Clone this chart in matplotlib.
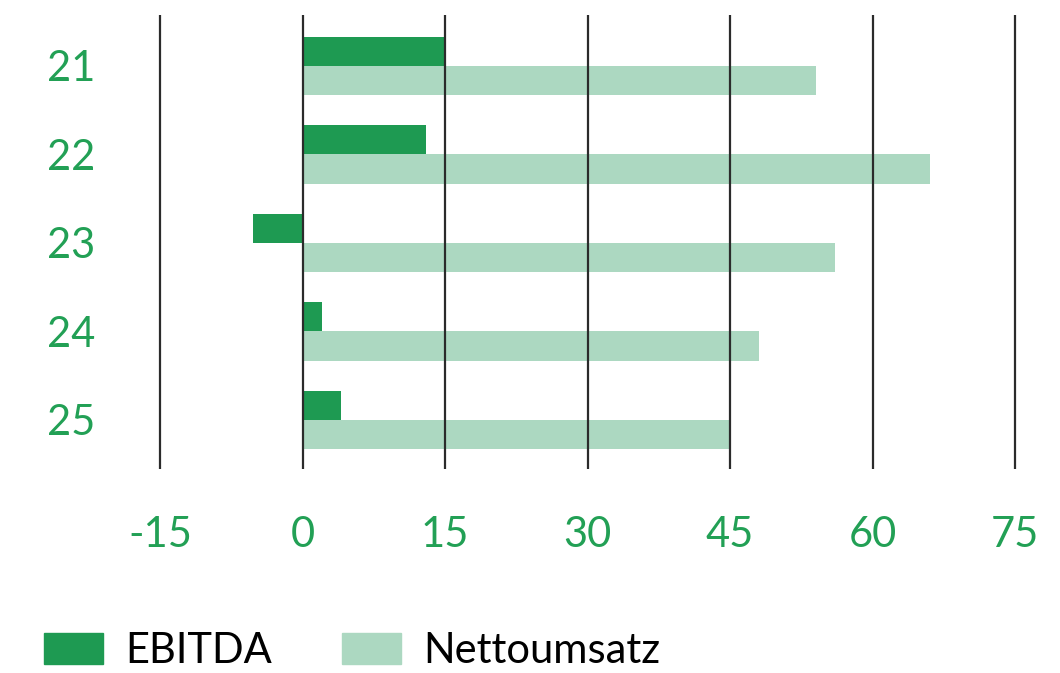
import matplotlib
matplotlib.use("Agg")
import matplotlib.pyplot as plt
import numpy as np
from matplotlib.patches import Patch

categories = ["21", "22", "23", "24", "25"]
ebitda = [15, 13, -5.2, 2, 4]
nettoumsatz = [54, 66, 56, 48, 45]
xticks = [-15, 0, 15, 30, 45, 60, 75]
series_names = ["EBITDA", "Nettoumsatz"]

dark = "#1e9a52"
light = "#acd8c1"
tickcol = "#22a055"

plt.rcParams['font.family'] = ['Lato', 'DejaVu Sans']

fig = plt.figure(figsize=(10.6, 6.73), dpi=100)
ax = fig.add_axes([155/1060, 1-469/673, 865/1060, 454/673])

y = np.arange(len(categories))
h = 0.333
ax.barh(y - h/2, ebitda, height=h, color=dark, zorder=2)
ax.barh(y + h/2, nettoumsatz, height=h, color=light, zorder=2)

for t in xticks:
    ax.axvline(t, color="#2b2b2b", lw=1.6, zorder=3)

ax.set_xlim(-15 - 5/9.5, 75 + 5/9.5)
ax.set_ylim(4.554, -0.576)
ax.set_xticks(xticks)
ax.set_xticklabels([str(t) for t in xticks])
ax.set_yticks(y)
ax.set_yticklabels(categories)
for s in ax.spines.values():
    s.set_visible(False)
ax.tick_params(axis='x', length=0, pad=34, labelsize=30, labelcolor=tickcol)
ax.tick_params(axis='y', length=0, pad=78, labelsize=30, labelcolor=tickcol)
for lab in ax.get_yticklabels():
    lab.set_horizontalalignment('left')

handles = [Patch(color=dark), Patch(color=light)]
fig.legend(handles, series_names, loc='lower left', bbox_to_anchor=(44/1060, 1-670/673),
           frameon=False, fontsize=30, handlelength=1.41, handleheight=0.75,
           handletextpad=0.53, columnspacing=1.7, ncol=2, borderpad=0, borderaxespad=0)

fig.savefig("out.png", dpi=100)
